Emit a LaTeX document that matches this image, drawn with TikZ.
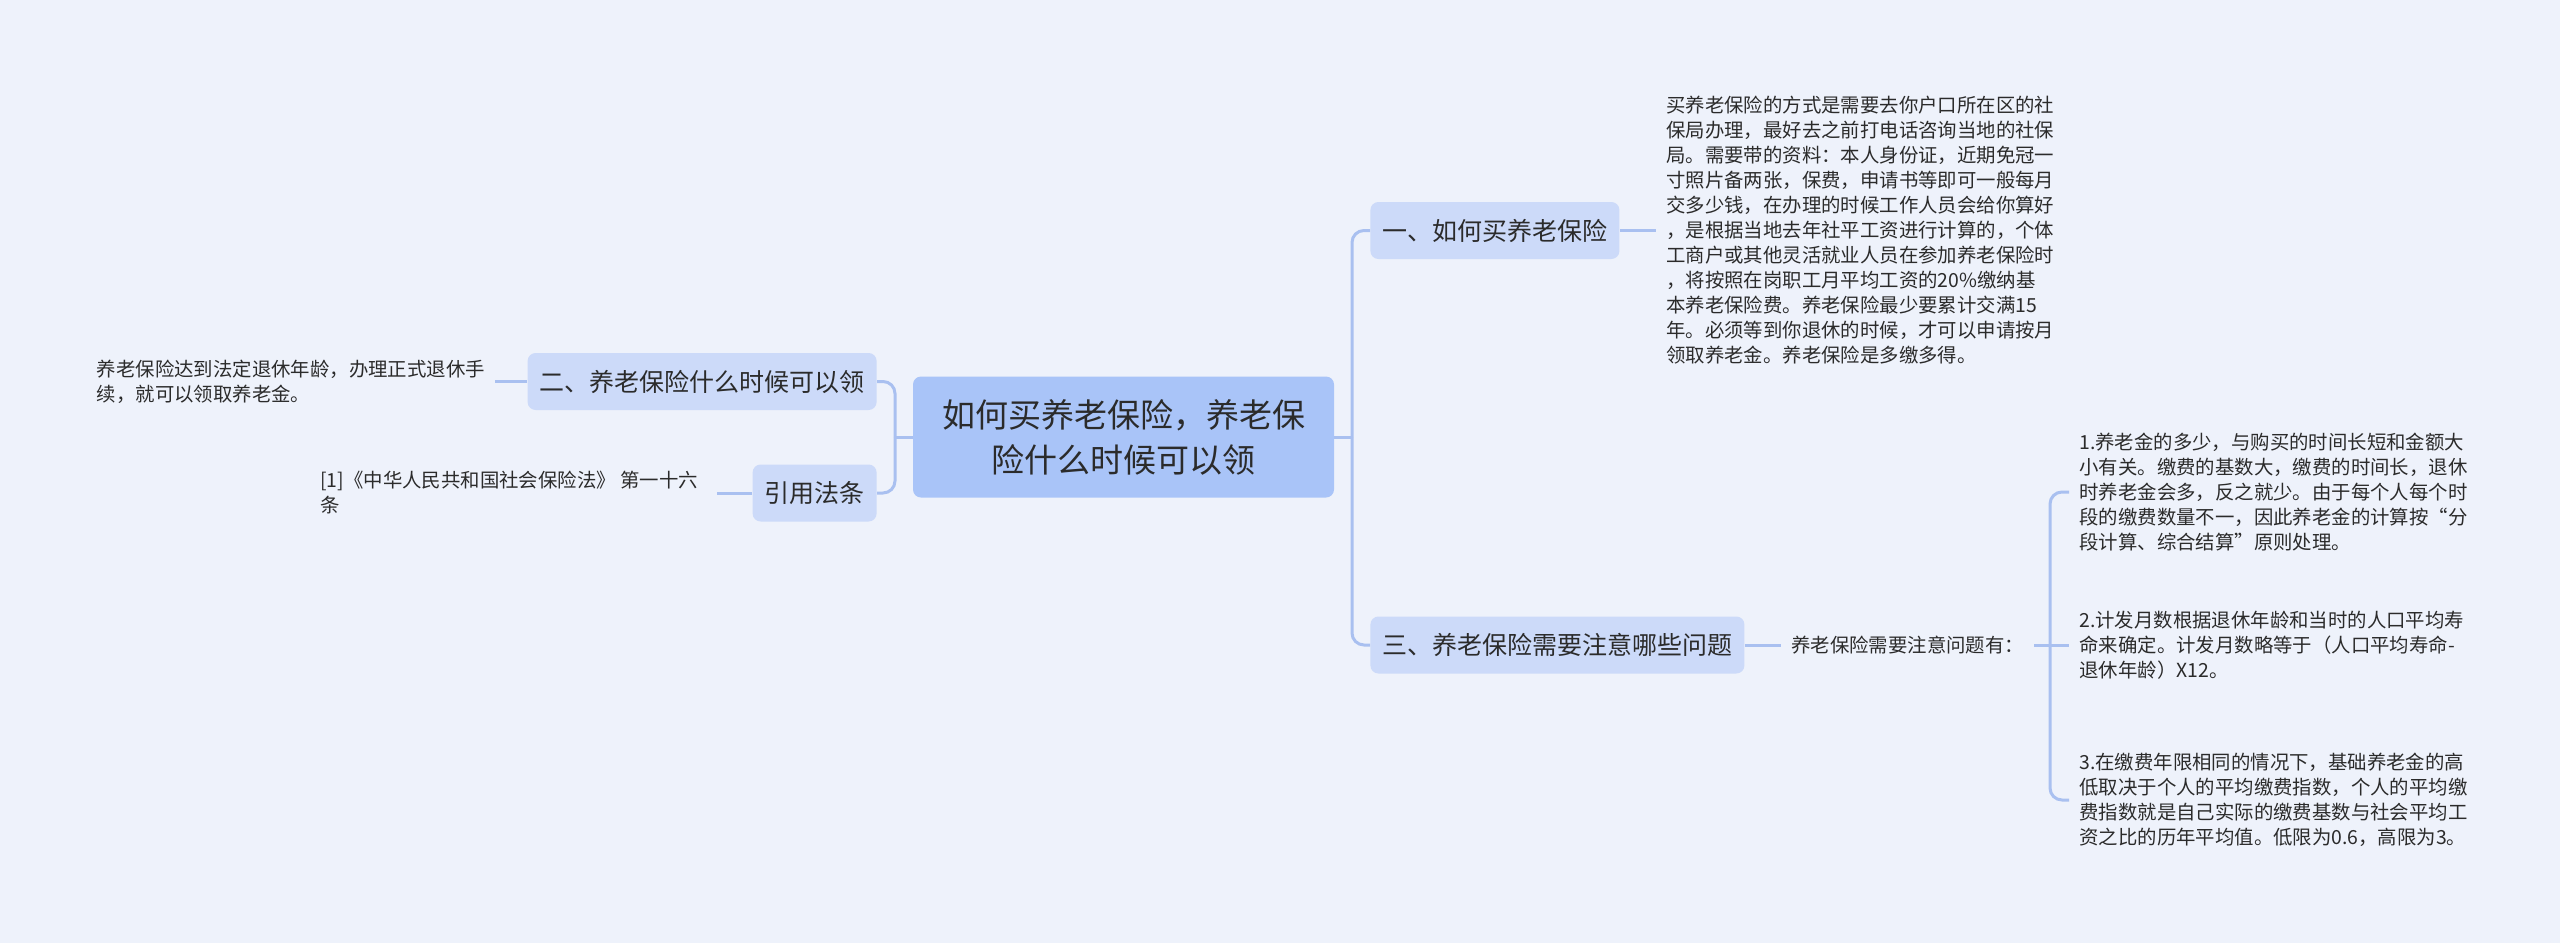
\documentclass[tikz,border=0pt]{standalone}
\usepackage{fontspec}
\newfontfamily\cjk{Noto Sans CJK SC}
\usetikzlibrary{positioning}
\definecolor{paper}{HTML}{EEF2FB}
\definecolor{rootblue}{HTML}{A9C4F8}
\definecolor{subblue}{HTML}{CCDAF9}
\definecolor{wire}{HTML}{A9C0F0}
\definecolor{ink}{HTML}{2B2B2B}

\begin{document}
\begin{tikzpicture}[x=0.5pt,y=-0.5pt,
    rootbox/.style={fill=rootblue,rounded corners=4pt,align=center,text=ink,
      minimum width=210.5pt,minimum height=60.5pt,font=\cjk\fontsize{16.5}{22.5}\selectfont},
    subbox/.style={fill=subblue,rounded corners=4pt,text=ink,inner xsep=6pt,
      minimum height=28.5pt,font=\cjk\fontsize{12.5}{15}\selectfont},
    note/.style={align=left,text=ink,inner xsep=5pt,font=\cjk\fontsize{9.7}{12.5}\selectfont},
    wirel/.style={draw=wire,line width=1.5pt,rounded corners=6pt}]
  \fill[paper] (0,0) rectangle (2560,943);
  \useasboundingbox (0,0) rectangle (2560,943);

  \node[rootbox] (root) at (1123.5,437) {如何买养老保险，养老保\\险什么时候可以领};

  \node[subbox,anchor=west] (buy)  at (1370,230.5) {一、如何买养老保险};
  \node[subbox,anchor=west] (care) at (1370,645)   {三、养老保险需要注意哪些问题};
  \node[subbox,anchor=east] (when) at (877,381.5)  {二、养老保险什么时候可以领};
  \node[subbox,anchor=east] (law)  at (877,493)    {引用法条};

  \node[note,right=18pt of buy] (buytxt) {买养老保险的方式是需要去你户口所在区的社\\保局办理，最好去之前打电话咨询当地的社保\\局。需要带的资料：本人身份证，近期免冠一\\寸照片备两张，保费，申请书等即可一般每月\\交多少钱，在办理的时候工作人员会给你算好\\，是根据当地去年社平工资进行计算的，个体\\工商户或其他灵活就业人员在参加养老保险时\\，将按照在岗职工月平均工资的20\%缴纳基\\本养老保险费。养老保险最少要累计交满15\\年。必须等到你退休的时候，才可以申请按月\\领取养老金。养老保险是多缴多得。};
  \node[note,right=18pt of care] (caretxt) {养老保险需要注意问题有：};
  \node[note,left=16pt of when] (whentxt) {养老保险达到法定退休年龄，办理正式退休手\\续，就可以领取养老金。};
  \node[note,inner xsep=9.5pt,left=17.5pt of law] (lawtxt) {[1]《中华人民共和国社会保险法》 第一十六\\条};

  \node[note,anchor=west] (tip1) at (2069,492) {1.养老金的多少，与购买的时间长短和金额大\\小有关。缴费的基数大，缴费的时间长，退休\\时养老金会多，反之就少。由于每个人每个时\\段的缴费数量不一，因此养老金的计算按“分\\段计算、综合结算”原则处理。};
  \node[note,anchor=west] (tip2) at (2069,645) {2.计发月数根据退休年龄和当时的人口平均寿\\命来确定。计发月数略等于（人口平均寿命-\\退休年龄）X12。};
  \node[note,anchor=west] (tip3) at (2069,800) {3.在缴费年限相同的情况下，基础养老金的高\\低取决于个人的平均缴费指数，个人的平均缴\\费指数就是自己实际的缴费基数与社会平均工\\资之比的历年平均值。低限为0.6，高限为3。};

  \coordinate (jr) at (1352,437);
  \coordinate (jl) at (895,437);
  \coordinate (jt) at (2050,645);

  \draw[wirel] (root.east) -- (jr);
  \draw[wirel] (jr) |- (buy.west);
  \draw[wirel] (jr) |- (care.west);
  \draw[wirel] (root.west) -- (jl);
  \draw[wirel] (jl) |- (when.east);
  \draw[wirel] (jl) |- (law.east);

  \draw[wirel] (buy.east) -- (buytxt.west);
  \draw[wirel] (care.east) -- (caretxt.west);
  \draw[wirel] (when.west) -- (whentxt.east);
  \draw[wirel] (law.west) -- (lawtxt.east);

  \draw[wirel] (caretxt.east) -- (jt);
  \draw[wirel] (jt) |- (tip1.west);
  \draw[wirel] (jt) -- (tip2.west);
  \draw[wirel] (jt) |- (tip3.west);
\end{tikzpicture}
\end{document}
